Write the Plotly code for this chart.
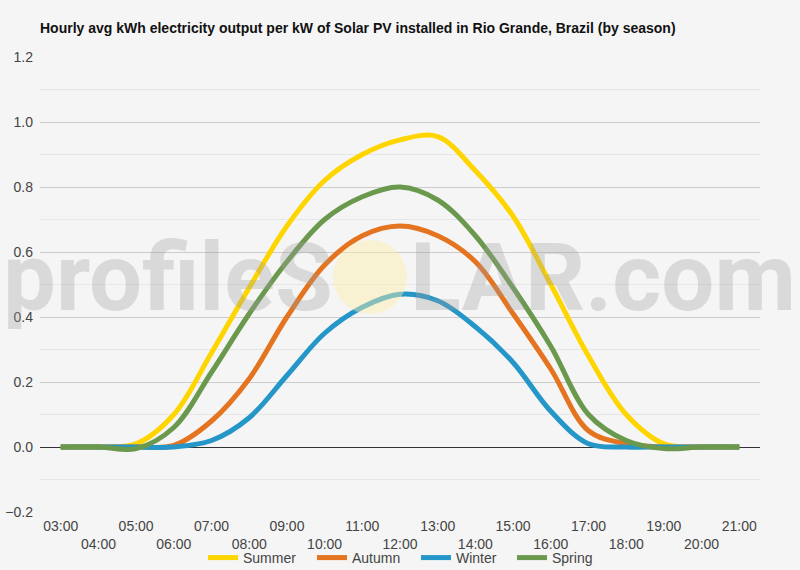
import plotly.graph_objects as go

hours = ["03:00", "04:00", "05:00", "06:00", "07:00", "08:00", "09:00", "10:00", "11:00",
         "12:00", "13:00", "14:00", "15:00", "16:00", "17:00", "18:00", "19:00", "20:00", "21:00"]
summer = [0, 0, 0.01, 0.10, 0.29, 0.49, 0.68, 0.82, 0.90, 0.945, 0.955, 0.85, 0.71, 0.50, 0.28, 0.10, 0.01, 0, 0]
autumn = [0, 0, 0, 0.005, 0.08, 0.21, 0.40, 0.56, 0.65, 0.68, 0.65, 0.57, 0.41, 0.24, 0.05, 0.01, 0, 0, 0]
winter = [0, 0, 0, 0, 0.02, 0.09, 0.22, 0.35, 0.43, 0.47, 0.45, 0.37, 0.26, 0.11, 0.01, 0, 0, 0, 0]
spring = [0, 0, -0.005, 0.06, 0.23, 0.41, 0.57, 0.70, 0.77, 0.80, 0.76, 0.65, 0.49, 0.31, 0.10, 0.02, -0.005, 0, 0]

series = [("Summer", summer, "#FFD500", 64), ("Autumn", autumn, "#E4741F", 59),
          ("Winter", winter, "#2596C8", 51), ("Spring", spring, "#6A994E", 52)]

title = "Hourly avg kWh electricity output per kW of Solar PV installed in Rio Grande, Brazil (by season)"

fig = go.Figure()
for name, vals, col, lw in series:
    fig.add_trace(go.Scatter(x=hours, y=vals, name=name, mode="lines", legendwidth=lw,
                             line=dict(color=col, width=5, shape="spline", smoothing=1.0)))

ticktext = [h if i % 2 == 0 else "<br>" + h for i, h in enumerate(hours)]

W, H = 800, 570
L, R, T, B = 40, 40, 57, 58
pw, ph = W - L - R, H - T - B

def px(x):
    return (x - L) / pw

def py(y):
    return (H - B - y) / ph

fig.update_layout(
    width=W, height=H,
    margin=dict(l=L, r=R, t=T, b=B, autoexpand=False),
    paper_bgcolor="#F5F5F5", plot_bgcolor="#F5F5F5",
    font=dict(family="Liberation Sans, Arial, sans-serif", size=14, color="#444444"),
    title=dict(text="<b>" + title + "</b>", x=40 / W, xanchor="left", y=1 - 28 / H, yanchor="middle",
               font=dict(size=14, color="#111111")),
    showlegend=True,
    legend=dict(orientation="h", x=px(406), xanchor="center", y=py(558), yanchor="middle",
                font=dict(size=14, color="#444444"), bgcolor="rgba(0,0,0,0)",
                itemwidth=30, tracegroupgap=0),
    xaxis=dict(type="category", range=[-0.55, 18.55], tickmode="array", tickvals=hours,
               ticktext=ticktext, showgrid=False, zeroline=False, showline=False,
               ticks="", automargin=False, ticklabelstandoff=4,
               tickfont=dict(size=14, color="#444444")),
    yaxis=dict(range=[-0.2, 1.2], dtick=0.2, tick0=0, tickformat=".1f", showgrid=True,
               gridcolor="#CCCCCC", gridwidth=1, zeroline=True, zerolinecolor="#333333",
               zerolinewidth=1, showline=False, ticks="", ticklabelstandoff=6, automargin=False,
               minor=dict(dtick=0.1, tick0=0, showgrid=True, gridcolor="#E6E6E6", gridwidth=1),
               tickfont=dict(size=14, color="#444444")),
)

# watermark
wm_font = dict(family="Roboto, sans-serif", size=94, color="rgba(160,160,160,0.32)", weight=700)
fig.add_annotation(text="profileS", xref="paper", yref="paper", x=px(335), y=py(278),
                   xanchor="right", yanchor="middle", showarrow=False, font=wm_font)
fig.add_annotation(text="LAR.com", xref="paper", yref="paper", x=px(408), y=py(278),
                   xanchor="left", yanchor="middle", showarrow=False, font=wm_font)
fig.add_shape(type="circle", xref="paper", yref="paper", x0=px(333), x1=px(407),
              y0=py(240), y1=py(314), fillcolor="rgba(252,240,170,0.45)", line=dict(width=0),
              layer="above")

fig.write_html("out.html")
